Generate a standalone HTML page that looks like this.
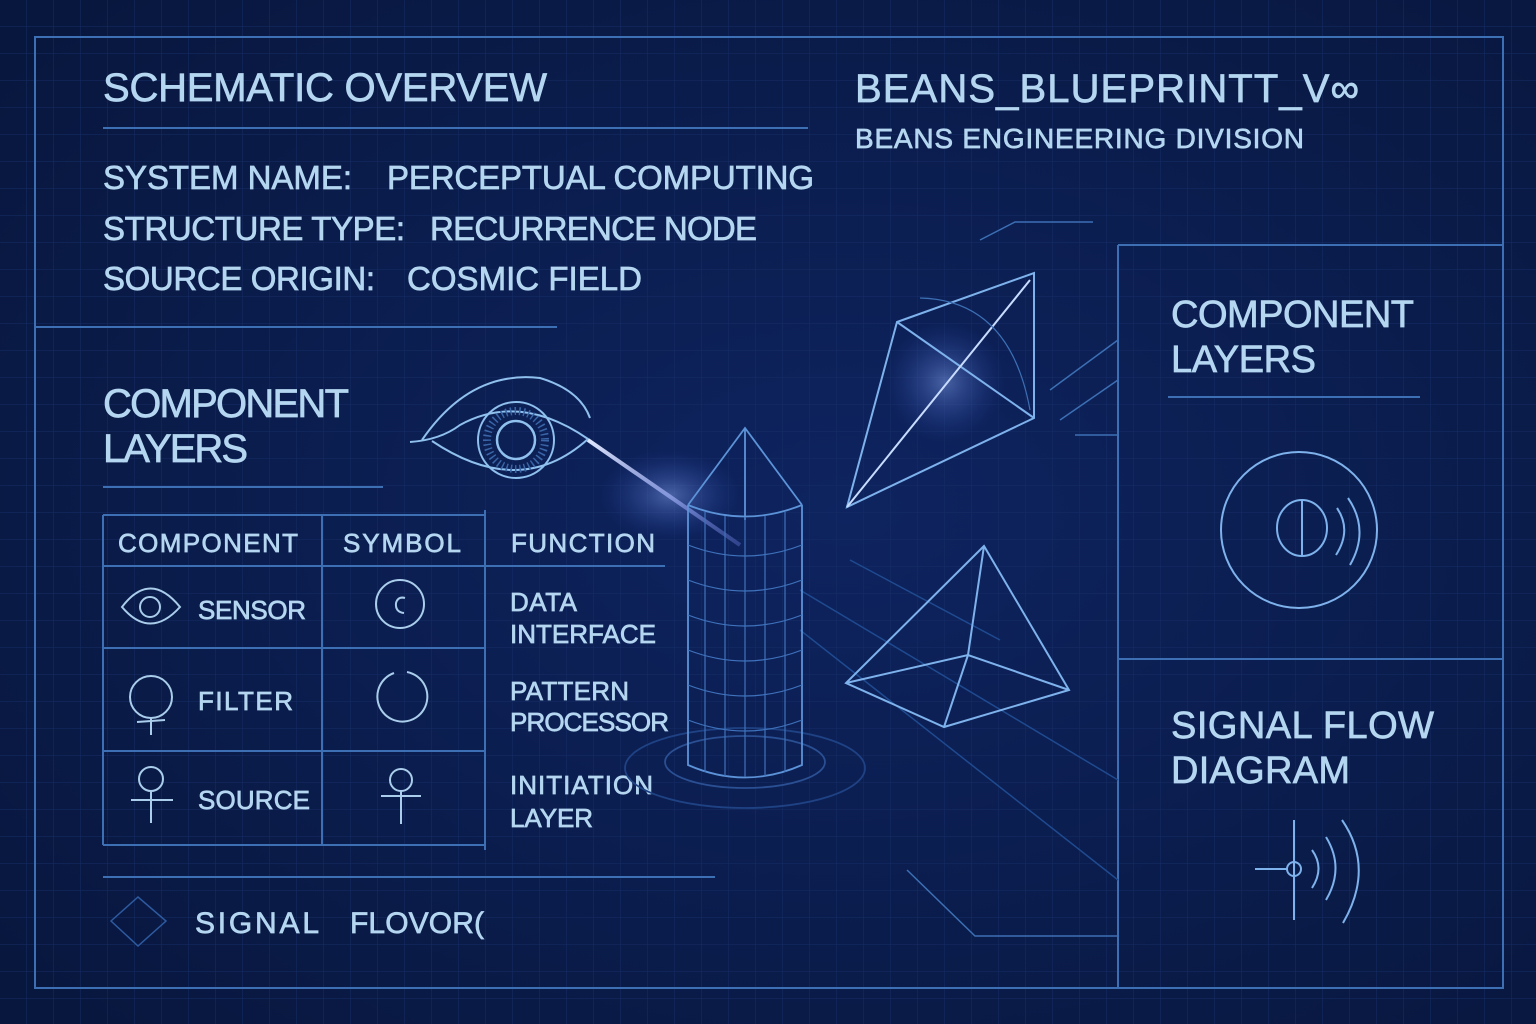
<!DOCTYPE html>
<html><head><meta charset="utf-8"><style>
html,body{margin:0;padding:0;background:#0a1c4a;}
svg{display:block}
text{font-family:"Liberation Sans",sans-serif;fill:#b4d6f0;stroke:#b4d6f0;stroke-width:0.7px;letter-spacing:1px}
</style></head><body>
<svg width="1536" height="1024" viewBox="0 0 1536 1024">
<defs>
<pattern id="g" width="27" height="27" patternUnits="userSpaceOnUse"><path d="M27 0V27H0" fill="none" stroke="#162d66" stroke-width="1"/></pattern>
<radialGradient id="bg" cx="0.55" cy="0.5" r="0.7"><stop offset="0" stop-color="#0e2460"/><stop offset="1" stop-color="#08173e"/></radialGradient>
<radialGradient id="glow"><stop offset="0" stop-color="#8fb0ff" stop-opacity="0.45"/><stop offset="1" stop-color="#3050c0" stop-opacity="0"/></radialGradient>
<linearGradient id="beam" x1="0" y1="0" x2="1" y2="1"><stop offset="0" stop-color="#e0e8ff"/><stop offset="1" stop-color="#8090ff" stop-opacity="0.3"/></linearGradient>
</defs>
<rect width="1536" height="1024" fill="url(#bg)"/>
<rect width="1536" height="1024" fill="url(#g)"/>
<g fill="none" stroke="#3c6fb4" stroke-width="2">
<rect x="35" y="37" width="1468" height="951"/>
<line x1="103" y1="128" x2="808" y2="128"/>
<line x1="35" y1="327" x2="557" y2="327"/>
<line x1="103" y1="487" x2="383" y2="487"/>
<line x1="1118" y1="245" x2="1118" y2="988"/>
<line x1="1118" y1="245" x2="1503" y2="245"/>
<line x1="1118" y1="659" x2="1503" y2="659"/>
<line x1="1168" y1="397" x2="1420" y2="397"/>
<line x1="103" y1="877" x2="715" y2="877"/>
<polyline points="980,240 1015,222 1093,222" stroke-width="1.5"/>
<polyline points="907,870 975,936 1118,936" stroke-width="1.5"/>
<line x1="1118" y1="435" x2="1075" y2="435" stroke-width="1.5"/>
<line x1="1118" y1="340" x2="1050" y2="390" stroke-width="1.5"/>
<line x1="1118" y1="380" x2="1060" y2="420" stroke-width="1.5"/>
</g>
<g fill="none" stroke="#1f4a90" stroke-width="1.5">
<line x1="800" y1="590" x2="1118" y2="780"/>
<line x1="800" y1="630" x2="1118" y2="880"/>
<line x1="850" y1="560" x2="1000" y2="640"/>
</g>
<g>
<text x="103" y="101" font-size="40" textLength="445">SCHEMATIC OVERVEW</text>
<text x="103" y="189" font-size="33" textLength="250">SYSTEM NAME:</text>
<text x="387" y="189" font-size="33" textLength="428">PERCEPTUAL COMPUTING</text>
<text x="103" y="240" font-size="33" textLength="303">STRUCTURE TYPE:</text>
<text x="430" y="240" font-size="33" textLength="328">RECURRENCE NODE</text>
<text x="103" y="290" font-size="33" textLength="273">SOURCE ORIGIN:</text>
<text x="407" y="290" font-size="33" textLength="236">COSMIC FIELD</text>
</g>
<text x="855" y="102" font-size="40" textLength="505">BEANS_BLUEPRINTT_V∞</text>
<text x="855" y="148" font-size="28" textLength="450">BEANS ENGINEERING DIVISION</text>
<text x="103" y="417" font-size="40" textLength="247">COMPONENT</text>
<text x="103" y="462" font-size="40" textLength="146">LAYERS</text>
<g>
<g fill="none" stroke="#3c6fb4" stroke-width="2">
<line x1="103" y1="515" x2="485" y2="515"/>
<line x1="103" y1="566" x2="665" y2="566"/>
<line x1="103" y1="648" x2="485" y2="648"/>
<line x1="103" y1="751" x2="485" y2="751"/>
<line x1="103" y1="845" x2="485" y2="845"/>
<line x1="103" y1="515" x2="103" y2="845"/>
<line x1="322" y1="515" x2="322" y2="845"/>
<line x1="485" y1="510" x2="485" y2="850"/>
</g>
<text x="118" y="552" font-size="26" textLength="181">COMPONENT</text>
<text x="343" y="552" font-size="26" textLength="119">SYMBOL</text>
<text x="511" y="552" font-size="26" textLength="145">FUNCTION</text>
<text x="198" y="619" font-size="26" textLength="109">SENSOR</text>
<text x="198" y="710" font-size="26" textLength="96">FILTER</text>
<text x="198" y="809" font-size="26" textLength="113">SOURCE</text>
<text x="510" y="611" font-size="26" textLength="68">DATA</text>
<text x="510" y="643" font-size="26" textLength="147">INTERFACE</text>
<text x="510" y="700" font-size="26" textLength="120">PATTERN</text>
<text x="510" y="731" font-size="26" textLength="160">PROCESSOR</text>
<text x="510" y="794" font-size="26" textLength="144">INITIATION</text>
<text x="510" y="827" font-size="26" textLength="84">LAYER</text>
<g fill="none" stroke="#a9cdea" stroke-width="2">
<path d="M122 607 Q150 570 180 607 Q150 640 122 607Z"/>
<circle cx="150" cy="607" r="10"/>
<circle cx="400" cy="604" r="24"/>
<path d="M404 613 Q395 612 396 603 Q398 596 405 598"/>
<path d="M407 672 A25 25 0 1 1 394 673"/>
<circle cx="151" cy="697" r="21"/>
<line x1="151" y1="718" x2="151" y2="735"/><line x1="137" y1="722" x2="165" y2="720"/>
<circle cx="151" cy="779" r="12"/>
<line x1="151" y1="791" x2="151" y2="823"/><line x1="131" y1="800" x2="173" y2="800"/>
<circle cx="401" cy="780" r="11"/>
<line x1="401" y1="791" x2="401" y2="824"/><line x1="381" y1="796" x2="421" y2="796"/>
</g>
</g>
<path d="M111 921 L138 897 L166 921 L138 946Z" fill="none" stroke="#2e5aa0" stroke-width="1.5"/>
<text x="195" y="933" font-size="30" textLength="125">SIGNAL</text>
<text x="350" y="933" font-size="30" textLength="135">FLOVOR(</text>
<g fill="none" stroke="#8fc0ee" stroke-width="2">
<path d="M422 440 Q470 370 540 378 Q580 390 590 418"/>
<path d="M410 442 Q440 440 460 425 Q520 392 588 439 Q520 500 432 441"/>
<circle cx="516" cy="440" r="38"/>
<circle cx="516" cy="440" r="19" stroke-width="2.5"/>
<circle cx="516" cy="440" r="29" stroke="#3a66a8" stroke-width="8" stroke-dasharray="1.5 3"/>
</g>
<ellipse cx="670" cy="495" rx="70" ry="45" fill="url(#glow)"/>
<line x1="588" y1="440" x2="740" y2="545" stroke="url(#beam)" stroke-width="4"/>
<g fill="none" stroke="#5c93d8" stroke-width="1.8">
<ellipse cx="745" cy="762" rx="80" ry="26" stroke="#2a4f92"/>
<ellipse cx="745" cy="768" rx="120" ry="40" stroke="#1f4284"/>
<path d="M688 505 L688 765 Q745 790 802 765 L802 505"/>
<path d="M688 505 Q745 528 802 505"/>
<path d="M688 505 L745 428 L802 505"/>
<line x1="745" y1="428" x2="745" y2="520"/>
<g stroke="#3f72bc" stroke-width="1.2">
<path d="M688 545 Q745 567 802 545"/><path d="M688 580 Q745 602 802 580"/>
<path d="M688 615 Q745 637 802 615"/><path d="M688 650 Q745 672 802 650"/>
<path d="M688 685 Q745 707 802 685"/><path d="M688 720 Q745 742 802 720"/>
<line x1="705" y1="512" x2="705" y2="772"/><line x1="725" y1="516" x2="725" y2="776"/>
<line x1="745" y1="517" x2="745" y2="777"/><line x1="765" y1="516" x2="765" y2="776"/>
<line x1="785" y1="512" x2="785" y2="772"/>
</g>
</g>
<ellipse cx="945" cy="382" rx="60" ry="60" fill="url(#glow)"/>
<g fill="none" stroke="#7eb2ec" stroke-width="2">
<path d="M897 322 L1034 273 L1034 418 L847 507 Z"/>
<line x1="897" y1="322" x2="1034" y2="418"/>
<line x1="847" y1="507" x2="1030" y2="280" stroke="#c8dcff"/>
<path d="M920 298 Q1010 300 1030 410" stroke="#3c6fb4" stroke-width="1.2"/>
</g>
<g fill="none" stroke="#7eb2ec" stroke-width="2">
<path d="M984 546 L846 683 L944 727 L1069 690 Z"/>
<path d="M984 546 L968 655 L944 727 M846 683 L968 655 L1069 690"/>
</g>
<text x="1171" y="327" font-size="38" textLength="244">COMPONENT</text>
<text x="1171" y="372" font-size="38" textLength="146">LAYERS</text>
<g fill="none" stroke="#7eb2ec" stroke-width="2">
<circle cx="1299" cy="530" r="78"/>
<ellipse cx="1302" cy="528" rx="25" ry="28"/>
<line x1="1302" y1="500" x2="1302" y2="556"/>
<path d="M1337 508 Q1352 530 1336 555"/>
<path d="M1348 498 Q1370 530 1350 565"/>
</g>
<text x="1171" y="738" font-size="38" textLength="264">SIGNAL FLOW</text>
<text x="1171" y="783" font-size="38" textLength="180">DIAGRAM</text>
<g fill="none" stroke="#7eb2ec" stroke-width="2">
<line x1="1294" y1="820" x2="1294" y2="920"/>
<line x1="1255" y1="869" x2="1287" y2="869"/>
<circle cx="1294" cy="869" r="7"/>
<path d="M1312 850 Q1325 868 1312 888"/>
<path d="M1326 837 Q1345 868 1326 900"/>
<path d="M1342 820 Q1375 868 1343 923"/>
</g>
</svg>
</body></html>
